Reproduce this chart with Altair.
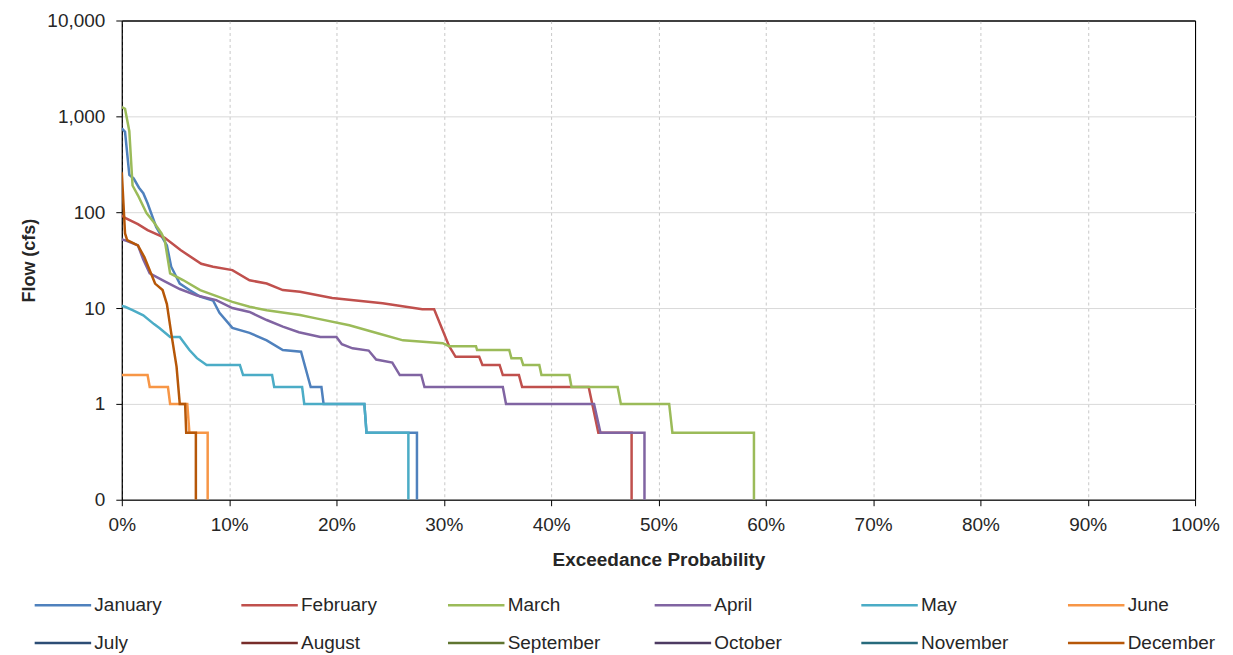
import altair as alt
import pandas as pd

# ---- data (exceedance probability in %, flow in cfs; 0.1 = plotted "0") ----
months = ["January", "February", "March", "April", "May", "June",
          "July", "August", "September", "October", "November", "December"]
colors = ["#4F81BD", "#C0504D", "#9BBB59", "#8064A2", "#4BACC6", "#F79646",
          "#2C4D75", "#772C2A", "#5F7530", "#4D3B62", "#276A7C", "#B65708"]

jan_x = [0, 0.3, 0.7, 1.1, 1.6, 2.0, 2.4, 3.2, 4.2, 4.6, 5.4, 6.3, 7.3, 8.5, 9.1,
         10.3, 11.9, 13.5, 15.0, 16.7, 17.6, 18.6, 18.8, 22.6, 22.8, 27.5, 27.5]
jan_y = [750, 690, 245, 225, 180, 158, 124, 70, 45, 27, 18, 15.4, 13.2, 12, 8.9,
         6.2, 5.5, 4.6, 3.65, 3.5, 1.5, 1.5, 1.0, 1.0, 0.5, 0.5, 0.1]

feb_x = [0, 0.4, 1.5, 2.4, 4.0, 5.5, 7.4, 8.5, 10.3, 11.9, 13.5, 15.0, 16.6, 19.6,
         24.3, 28.0, 29.1, 30.5, 31.1, 33.3, 33.6, 35.2, 35.5, 37.0, 37.3, 43.5,
         44.4, 47.5, 47.5]
feb_y = [92, 86, 75, 65, 54, 40, 29, 27, 24.9, 19.5, 18, 15.4, 14.8, 12.7,
         11.2, 9.7, 9.7, 4.0, 3.1, 3.1, 2.55, 2.55, 2.0, 2.0, 1.5, 1.5,
         0.5, 0.5, 0.1]

mar_x = [0, 0.3, 0.7, 1.0, 1.5, 2.3, 3.0, 3.7, 4.0, 4.5, 5.7, 7.3, 10.3, 11.9,
         13.5, 16.6, 18.1, 21.2, 24.0, 26.2, 29.9, 30.5, 33.0, 33.1, 36.1, 36.3,
         37.2, 37.4, 38.9, 39.1, 41.7, 41.9, 46.2, 46.5, 51.0, 51.3, 58.9, 58.9]
mar_y = [1250, 1200, 700, 190, 150, 98, 78, 60, 51, 23, 19.6, 15.4, 11.6, 10.3,
         9.5, 8.45, 7.8, 6.6, 5.4, 4.6, 4.3, 4.0, 4.0, 3.65, 3.65, 3.0,
         3.0, 2.55, 2.55, 2.0, 2.0, 1.5, 1.5, 1.0, 1.0, 0.5, 0.5, 0.1]

apr_x = [0, 0.5, 1.5, 2.0, 2.6, 4.0, 5.4, 7.0, 8.8, 10.3, 11.9, 13.5, 15.0, 16.5,
         18.5, 20.0, 20.5, 21.5, 23.0, 23.7, 25.2, 25.9, 27.9, 28.2, 35.5, 35.8,
         44.0, 44.6, 48.7, 48.7]
apr_y = [52, 50, 45, 32, 23, 19, 15.8, 13.5, 12.1, 10, 9.1, 7.5, 6.4, 5.6,
         5.0, 5.0, 4.2, 3.8, 3.6, 2.9, 2.7, 2.0, 2.0, 1.5, 1.5, 1.0,
         1.0, 0.5, 0.5, 0.1]

may_x = [0, 0.3, 1.0, 2.0, 3.0, 3.5, 4.5, 5.4, 6.3, 7.0, 7.9, 11.0, 11.3, 14.0,
         14.2, 16.8, 17.0, 22.6, 22.8, 26.7, 26.7]
may_y = [10.5, 10.3, 9.5, 8.4, 6.8, 6.2, 5.0, 5.0, 3.65, 3.0, 2.55, 2.55, 2.0, 2.0,
         1.5, 1.5, 1.0, 1.0, 0.5, 0.5, 0.1]

jun_x = [0, 2.4, 2.6, 4.3, 4.5, 6.1, 6.3, 8.0, 8.0]
jun_y = [2.0, 2.0, 1.5, 1.5, 1.0, 1.0, 0.5, 0.5, 0.1]

dec_x = [0, 0.3, 0.5, 1.5, 2.1, 3.1, 3.8, 4.2, 4.6, 5.1, 5.4, 5.9, 6.0, 6.9, 6.9]
dec_y = [260, 60, 51, 45, 34, 18, 15.4, 11, 5.5, 2.45, 1.0, 1.0, 0.5, 0.5, 0.1]

x_ticks = [0, 0.1, 0.2, 0.3, 0.4, 0.5, 0.6, 0.7, 0.8, 0.9, 1.0]
y_ticks = [0.1, 1, 10, 100, 1000, 10000]

series = [("January", jan_x, jan_y), ("February", feb_x, feb_y),
          ("March", mar_x, mar_y), ("April", apr_x, apr_y),
          ("May", may_x, may_y), ("June", jun_x, jun_y),
          ("December", dec_x, dec_y)]

rows = []
for name, xs, ys in series:
    for i, (xv, yv) in enumerate(zip(xs, ys)):
        rows.append({"month": name, "p": xv / 100.0, "flow": yv, "idx": i})
df = pd.DataFrame(rows)

FONT = "Liberation Sans"

chart = alt.Chart(df).mark_line(strokeWidth=2.5, clip=True).encode(
    x=alt.X("p:Q",
            scale=alt.Scale(domain=[0, 1], nice=False),
            axis=alt.Axis(format=".0%", values=x_ticks,
                          title="Exceedance Probability", labelFlush=False,
                          grid=True,
                          gridDash={"condition": {"test": "datum.value >= 0.999", "value": []},
                                    "value": [3, 3]},
                          gridColor={"condition": {"test": "datum.value >= 0.999", "value": "black"},
                                     "value": "#c8c8c8"},
                          gridWidth=1, labelPadding=10, titlePadding=16,
                          titleFontSize=19)),
    y=alt.Y("flow:Q",
            scale=alt.Scale(type="log", domain=[0.1, 10000], nice=False),
            axis=alt.Axis(values=y_ticks,
                          labelExpr="datum.value < 1 ? '0' : format(datum.value, ',')",
                          title="Flow (cfs)", grid=True, labelFlush=False,
                          gridColor={"condition": {"test": "datum.value >= 9999", "value": "black"},
                                     "value": "#d9d9d9"},
                          gridWidth=1, labelPadding=11, titlePadding=8,
                          titleFontSize=18)),
    color=alt.Color("month:N",
                    scale=alt.Scale(domain=months, range=colors),
                    legend=alt.Legend(title=None, orient="none", legendX=-90,
                                      legendY=576, columns=6, direction="horizontal",
                                      gridAlign="all", symbolType="M-4,0H4",
                                      symbolSize=200, symbolStrokeWidth=2.5,
                                      symbolOffset=21.5, labelOffset=22,
                                      labelFontSize=19, labelFont=FONT,
                                      labelColor="#262626", columnPadding=48,
                                      rowPadding=18, padding=0, labelLimit=200)),
    order=alt.Order("idx:Q"),
).properties(
    width=1075, height=480,
    autosize=alt.AutoSizeParams(type="none"),
    padding={"left": 114, "top": 12, "right": 30, "bottom": 155},
).configure_view(
    stroke="black", strokeWidth=1
).configure_axis(
    domainColor="black", tickColor="black", tickSize=6,
    labelFont=FONT, labelFontSize=19, labelColor="#262626",
    titleFont=FONT, titleFontWeight="bold", titleColor="#262626",
)

chart.save("out.html", embed_options={"renderer": "svg", "actions": False})
